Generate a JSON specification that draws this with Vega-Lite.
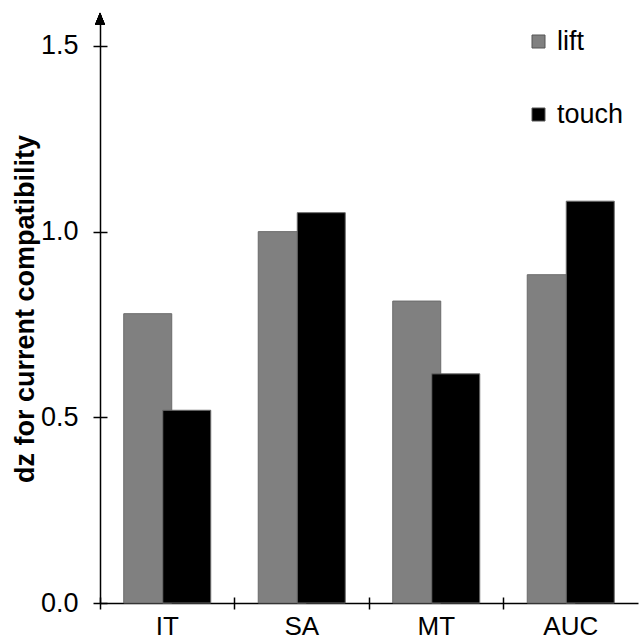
{
  "$schema": "https://vega.github.io/schema/vega-lite/v6.json",
  "autosize": "none",
  "padding": {"left": 100, "top": 14, "right": 1, "bottom": 38},
  "width": 538,
  "height": 589,
  "background": "white",
  "config": {
    "view": {"stroke": null},
    "font": "Liberation Sans"
  },
  "data": {
    "values": [
      {"measure": "IT", "cond": "lift", "dz": 0.779},
      {"measure": "SA", "cond": "lift", "dz": 1.0},
      {"measure": "MT", "cond": "lift", "dz": 0.813},
      {"measure": "AUC", "cond": "lift", "dz": 0.884},
      {"measure": "IT", "cond": "touch", "dz": 0.519},
      {"measure": "SA", "cond": "touch", "dz": 1.051},
      {"measure": "MT", "cond": "touch", "dz": 0.617},
      {"measure": "AUC", "cond": "touch", "dz": 1.082}
    ]
  },
  "resolve": {"axis": {"x": "independent", "y": "independent"}},
  "layer": [
    {
      "mark": {"type": "bar", "width": 48, "stroke": "#6b6b6b", "strokeWidth": 1},
      "encoding": {
        "x": {
          "field": "measure",
          "type": "nominal",
          "sort": ["IT", "SA", "MT", "AUC"],
          "scale": {"paddingInner": 0, "paddingOuter": 0},
          "axis": {
            "orient": "bottom",
            "title": null,
            "labelAngle": 0,
            "ticks": false,
            "tickSize": 0,
            "labelPadding": 10,
            "labelFontSize": 26,
            "labelColor": "black",
            "domainColor": "black",
            "domainWidth": 1.5
          }
        },
        "xOffset": {
          "field": "cond",
          "type": "nominal",
          "scale": {"paddingInner": 0, "paddingOuter": 0.724}
        },
        "y": {
          "field": "dz",
          "type": "quantitative",
          "scale": {"domain": [0, 1.586], "nice": false, "zero": true},
          "axis": {
            "orient": "left",
            "values": [0, 0.5, 1, 1.5],
            "format": ".1f",
            "grid": false,
            "tickSize": 7,
            "tickWidth": 1.5,
            "tickColor": "black",
            "domainColor": "black",
            "domainWidth": 1.5,
            "labelPadding": 15,
            "labelFontSize": 27,
            "labelColor": "black",
            "title": "dz for current compatibility",
            "titleFontSize": 27,
            "titleFontWeight": "bold",
            "titleColor": "black",
            "titlePadding": 1
          }
        },
        "color": {
          "field": "cond",
          "type": "nominal",
          "scale": {"domain": ["lift", "touch"], "range": ["#808080", "#000000"]},
          "legend": {
            "orient": "none",
            "legendX": 425,
            "legendY": 14,
            "title": null,
            "symbolType": "square",
            "symbolSize": 169,
            "symbolStrokeColor": "#555555",
            "symbolStrokeWidth": 1,
            "labelFontSize": 27,
            "labelColor": "black",
            "labelOffset": 5,
            "rowPadding": 45,
            "padding": 0
          }
        }
      }
    },
    {
      "mark": {"type": "point", "shape": "M0,-1.2L1,1.2L-1,1.2Z", "size": 100, "filled": true, "color": "black", "opacity": 1},
      "encoding": {
        "x": {
          "datum": "IT",
          "bandPosition": 0,
          "axis": {
            "orient": "bottom",
            "bandPosition": 0,
            "offset": -6,
            "tickSize": 12,
            "tickWidth": 1.5,
            "tickColor": "black",
            "domain": false,
            "labels": false,
            "title": null
          }
        },
        "y": {
          "datum": 1.5729,
          "type": "quantitative",
          "axis": {
            "orient": "left",
            "values": [0, 0.5, 1, 1.5],
            "offset": -7,
            "tickSize": 7,
            "tickWidth": 1.5,
            "tickColor": "black",
            "domain": false,
            "labels": false,
            "grid": false,
            "title": null
          }
        }
      }
    }
  ]
}
